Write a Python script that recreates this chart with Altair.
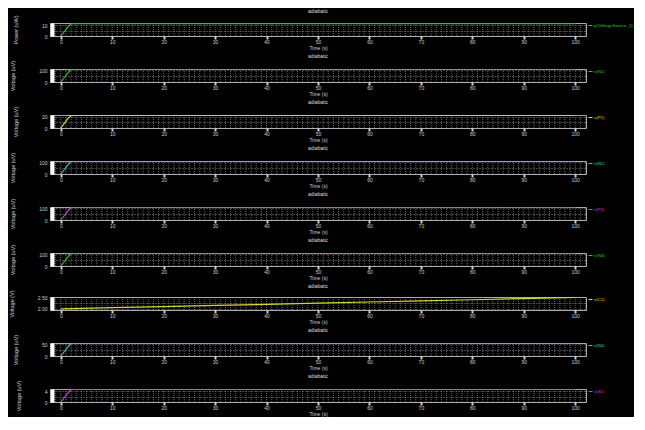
import altair as alt
import pandas as pd

# ---- data (time in seconds) ----
t_fast = [0, 0.5, 1.0, 1.5, 2.0, 3.0, 100.0]
p_source = [0, 3.0, 6.0, 9.0, 11.3, 11.5, 11.5]          # Power (uW)
v_n1 = [0, 28, 56, 84, 108, 110, 110]                     # Voltage (uV)
v_p1 = [0, 6, 12, 18, 22, 22.5, 22.5]
v_n2 = [0, 28, 56, 84, 108, 110, 110]
v_p2 = [0, 28, 56, 84, 108, 110, 110]
v_n3 = [0, 28, 56, 84, 108, 110, 110]
t_slow = [0, 10, 20, 30, 40, 50, 60, 70, 80, 90, 100]
v_cap = [2.00, 2.05, 2.10, 2.15, 2.20, 2.25, 2.30, 2.35, 2.40, 2.45, 2.50]  # Voltage (V)
v_n4 = [0, 14, 28, 42, 54, 55, 55]
v_s1 = [0, 1.2, 2.4, 3.6, 4.6, 4.7, 4.7]

series_names = ["p(VoltageSource_1)", "v(N1)", "v(P1)", "v(N2)", "v(P2)",
                "v(N3)", "v(C1)", "v(N4)", "v(S1)"]
y_titles = ["Power (uW)", "Voltage (uV)", "Voltage (uV)", "Voltage (uV)",
            "Voltage (uV)", "Voltage (uV)", "Voltage (V)", "Voltage (uV)",
            "Voltage (uV)"]
y_domains = [[0, 12], [0, 112], [0, 23], [0, 112], [0, 112], [0, 112],
             [1.95, 2.52], [0, 56], [0, 4.8]]
y_ticks = [[0, 5, 10], [0, 50, 100], [0, 10, 20], [0, 50, 100], [0, 50, 100],
           [0, 50, 100], [2.0, 2.25, 2.5], [0, 25, 50], [0, 2, 4]]
y_formats = ["d", "d", "d", "d", "d", "d", ".2f", "d", "d"]
series_values = [p_source, v_n1, v_p1, v_n2, v_p2, v_n3, v_cap, v_n4, v_s1]
series_times = [t_fast, t_fast, t_fast, t_fast, t_fast, t_fast, t_slow, t_fast, t_fast]
colors = ["#33c233", "#33c233", "#d6d63a", "#3fc2c2", "#cc44cc",
          "#33c233", "#d6d63a", "#3fc2c2", "#cc44cc"]

x_major = list(range(0, 101, 10))
x_minor = list(range(-2, 103, 1))

W, H = 536, 13
xscale = alt.Scale(domain=[-2.1, 102.1], nice=False, zero=False)
grid_df = pd.DataFrame({"t": x_minor})


def panel(times, vals, name, color, ytitle, ydom, yvals, yfmt):
    df = pd.DataFrame({"t": times, "v": vals, "s": name})
    grid = alt.Chart(grid_df).mark_rule(
        color="#9a9a9a", strokeDash=[1, 1], strokeWidth=0.8, opacity=0.8
    ).encode(x=alt.X("t:Q", scale=xscale, axis=None))
    line = alt.Chart(df).mark_line(strokeWidth=1.2, clip=True).encode(
        x=alt.X("t:Q", scale=xscale,
                axis=alt.Axis(values=x_major, title="Time (s)", grid=False,
                              labelFontSize=5, titleFontSize=5, labelColor="#cccccc",
                              titleColor="#cccccc", tickColor="#cccccc", tickSize=3,
                              tickWidth=2, domain=False, labelPadding=0,
                              titlePadding=1, titleFontWeight="normal",
                              minExtent=0)),
        y=alt.Y("v:Q", scale=alt.Scale(domain=ydom, nice=False, zero=False),
                axis=alt.Axis(values=yvals, format=yfmt, title=ytitle,
                              labelExpr=f"datum.value == {yvals[1]} ? '' : datum.label",
                              grid=True, gridColor="#bbbbbb", gridDash=[1, 2],
                              gridOpacity=0.7, labelFontSize=5, titleFontSize=5.5,
                              labelColor="#cccccc", titleColor="#cccccc",
                              tickSize=2, tickColor="#cccccc", domainColor="#ffffff",
                              domainWidth=4, offset=-2, labelPadding=3,
                              labelOverlap=False,
                              titlePadding=23, titleFontWeight="normal",
                              minExtent=0)),
        color=alt.Color("s:N", scale=alt.Scale(range=[color]),
                        legend=alt.Legend(title=None, orient="right", offset=2,
                                          labelColor=color, labelFontSize=4.4,
                                          symbolType="stroke", symbolSize=16,
                                          symbolStrokeWidth=1, padding=0,
                                          labelOffset=1, labelLimit=44)),
    )
    return alt.layer(grid, line).resolve_axis(x="independent").properties(
        width=W, height=H,
        title=alt.TitleParams("adiabatic", fontSize=5, color="#dddddd",
                              fontWeight="normal", offset=1, anchor="middle"))


panels = [panel(series_times[i], series_values[i], series_names[i], colors[i],
                y_titles[i], y_domains[i], y_ticks[i], y_formats[i])
          for i in range(9)]

chart = alt.vconcat(*panels, spacing=2).resolve_scale(
    color="independent").resolve_legend(color="independent").configure(
    background="#000000", padding=0
).configure_view(stroke="#aaaaaa", strokeWidth=1)

chart.save("out.html", embed_options={"renderer": "svg", "actions": False})
